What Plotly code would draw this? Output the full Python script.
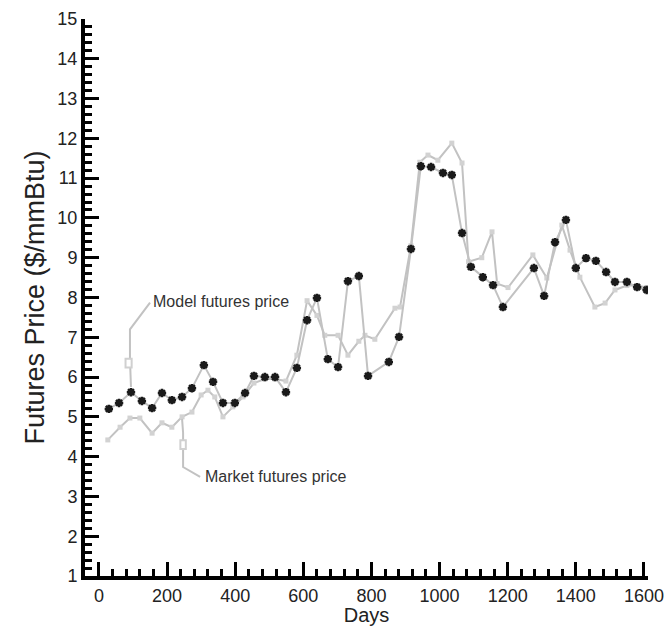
import plotly.graph_objects as go

# ---- data ----
model_days = [29, 59, 94, 126, 156, 185, 214, 244, 273, 308, 335, 364, 399, 429,
              455, 487, 517, 549, 581, 611, 640, 672, 702, 731, 763, 790, 851, 881,
              916, 945, 975, 1010, 1036, 1066, 1092, 1127, 1157, 1186, 1277, 1307,
              1339, 1371, 1400, 1430, 1459, 1489, 1515, 1550, 1580, 1608]
model_price = [5.20, 5.35, 5.62, 5.40, 5.22, 5.60, 5.42, 5.50, 5.72, 6.30, 5.88, 5.35,
               5.35, 5.60, 6.03, 6.00, 6.00, 5.62, 6.23, 7.43, 7.99, 6.45, 6.25, 8.41,
               8.54, 6.03, 6.38, 7.01, 9.22, 11.30, 11.28, 11.13, 11.08, 9.62, 8.77,
               8.51, 8.31, 7.76, 8.74, 8.04, 9.39, 9.95, 8.74, 8.99, 8.92, 8.64, 8.39,
               8.39, 8.26, 8.19]

market_days = [26, 62, 91, 120, 156, 185, 214, 244, 273, 300, 320, 340, 364, 393, 423,
               455, 487, 517, 549, 581, 611, 640, 663, 702, 731, 763, 781, 810, 869,
               884, 916, 942, 966, 995, 1036, 1066, 1085, 1124, 1154, 1169, 1201,
               1274, 1315, 1359, 1383, 1412, 1456, 1486, 1515, 1550, 1580, 1608]
market_price = [4.42, 4.74, 4.97, 4.97, 4.59, 4.85, 4.74, 5.00, 5.12, 5.55, 5.67, 5.50,
                5.00, 5.25, 5.50, 5.85, 5.95, 5.95, 5.90, 6.55, 7.92, 7.55, 7.05, 7.05,
                6.55, 6.90, 7.05, 6.95, 7.73, 7.76, 9.30, 11.40, 11.58, 11.45, 11.88,
                11.38, 8.90, 9.00, 9.65, 8.35, 8.25, 9.07, 8.49, 9.82, 9.19, 8.51, 7.76,
                7.86, 8.19, 8.30, 8.30, 8.25]

x_ticks = [0, 200, 400, 600, 800, 1000, 1200, 1400, 1600]
y_ticks = list(range(1, 16))

label_model = "Model futures price"
label_market = "Market futures price"
x_title = "Days"
y_title = "Futures Price ($/mmBtu)"

FONT = "Liberation Sans, Arial, sans-serif"
LIGHT = "#c2c2c2"

fig = go.Figure()
fig.add_trace(go.Scatter(
    x=market_days, y=market_price, mode="lines+markers", name=label_market,
    line=dict(color=LIGHT, width=2),
    marker=dict(symbol="square", size=5, color="#d2d2d2"),
))
fig.add_trace(go.Scatter(
    x=model_days, y=model_price, mode="lines+markers", name=label_model,
    line=dict(color=LIGHT, width=2),
    marker=dict(symbol="asterisk", size=7, color="#1a1a1a",
                line=dict(color="#1a1a1a", width=2.5)),
))

# leader lines for the labels
def path(pts):
    return "M " + " L ".join(f"{a},{b}" for a, b in pts)

model_leader = [(150, 7.87), (91, 7.2), (91, 6.45), (94, 5.75)]
market_leader = [(297, 3.49), (247, 3.74), (247, 4.6), (244, 4.95)]
for pts in (model_leader, market_leader):
    fig.add_shape(type="path", path=path(pts), xref="x", yref="y",
                  line=dict(color=LIGHT, width=2))
fig.add_shape(type="rect", xref="x", yref="y", x0=78, x1=96, y0=6.24, y1=6.46,
              line=dict(color="#d0d0d0", width=2), fillcolor="white")
fig.add_shape(type="rect", xref="x", yref="y", x0=239, x1=255, y0=4.19, y1=4.41,
              line=dict(color="#d0d0d0", width=2), fillcolor="white")

fig.add_annotation(x=153, y=7.89, xref="x", yref="y", text=label_model,
                   showarrow=False, xanchor="left", yanchor="middle",
                   font=dict(family=FONT, size=16, color="#333"))
fig.add_annotation(x=305, y=3.49, xref="x", yref="y", text=label_market,
                   showarrow=False, xanchor="left", yanchor="middle",
                   font=dict(family=FONT, size=16, color="#333"))

axis_common = dict(
    showline=True, linecolor="black", linewidth=4, mirror=False,
    ticks="inside", tickcolor="black", tickwidth=3, ticklen=14,
    showgrid=False, zeroline=False, automargin=False,
    tickfont=dict(family=FONT, size=18, color="#222"),
)

fig.update_xaxes(
    range=[-41, 1612], tickvals=x_ticks, ticktext=[str(v) for v in x_ticks],
    minor=dict(ticks="inside", dtick=40, tick0=0, ticklen=7, tickwidth=3,
               tickcolor="black", showgrid=False),
    title=dict(text=x_title, font=dict(family=FONT, size=20, color="#222"), standoff=0),
    **axis_common,
)
fig.update_yaxes(
    range=[1, 15], tickvals=y_ticks, ticktext=[str(v) for v in y_ticks],
    minor=dict(ticks="inside", dtick=0.2, tick0=1, ticklen=7, tickwidth=3,
               tickcolor="black", showgrid=False),
    title=dict(text=y_title, font=dict(family=FONT, size=27, color="#222"), standoff=6),
    **axis_common,
)

fig.update_layout(
    width=668, height=626,
    margin=dict(l=85, r=20, t=19, b=50, pad=0),
    plot_bgcolor="white", paper_bgcolor="white",
    showlegend=False,
)

# remove the default page margin so the figure fills the window exactly
fig.write_html("out.html",
               config={"displayModeBar": False},
               post_script="document.body.style.margin='0';document.body.style.overflow='hidden';")
